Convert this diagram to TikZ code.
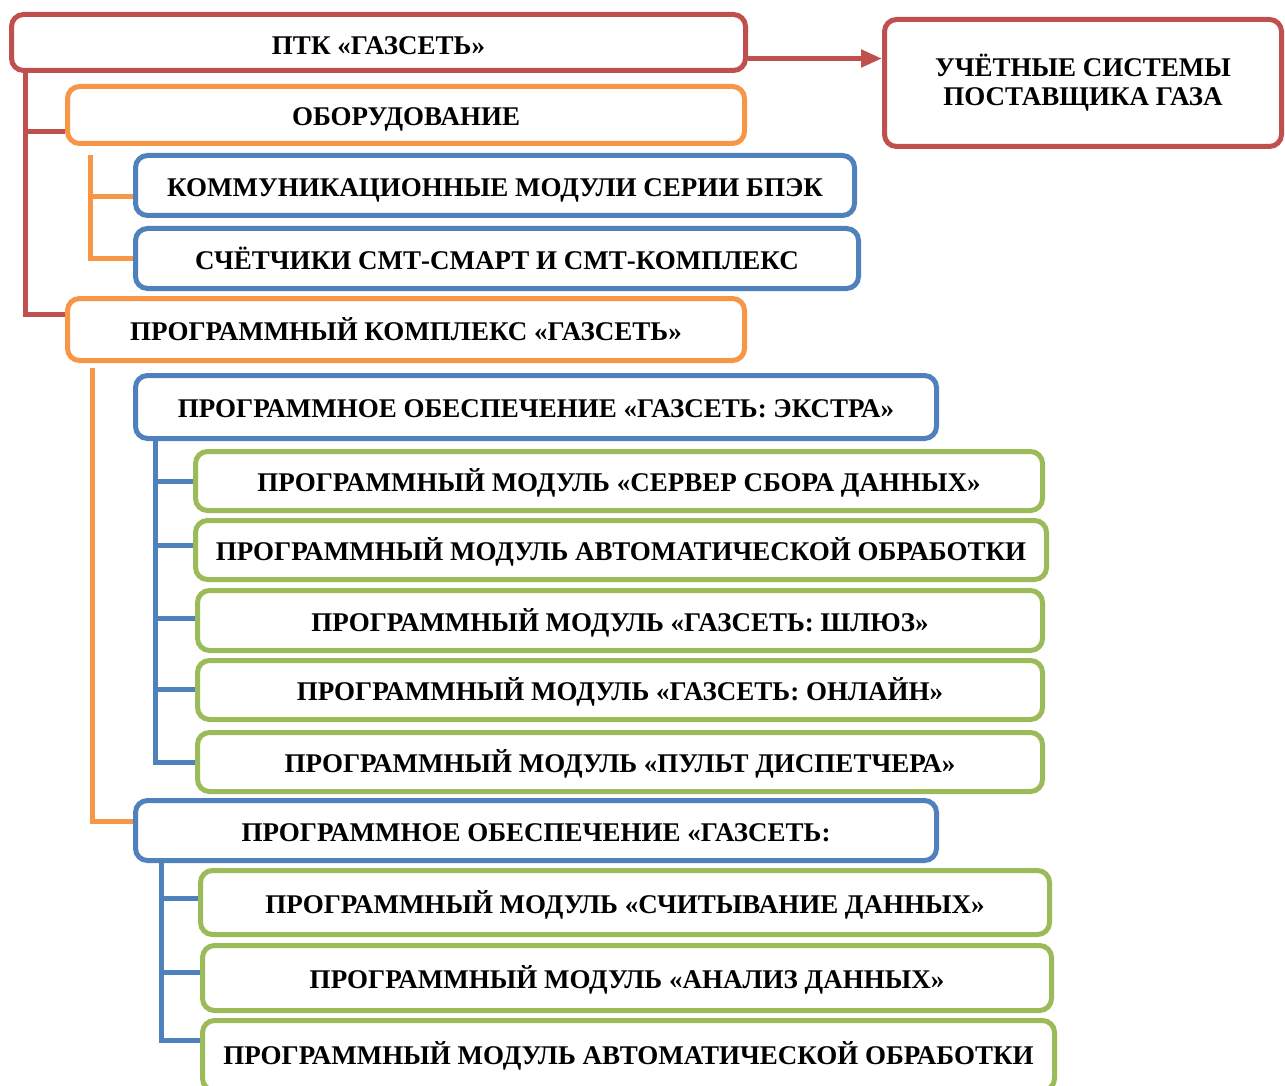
\documentclass[tikz,border=0pt]{standalone}
\usepackage{fontspec}
\setmainfont{Liberation Serif}
\usetikzlibrary{calc,arrows.meta}
\definecolor{cred}{HTML}{C0504D}
\definecolor{corange}{HTML}{F79646}
\definecolor{cblue}{HTML}{4F81BD}
\definecolor{cgreen}{HTML}{9BBB59}
\begin{document}
\begin{tikzpicture}[x=1pt,y=-1pt,
  box/.style={draw, line width=5pt, rounded corners=12pt, fill=white, anchor=north west,
    inner sep=0pt, font=\fontsize{27}{31}\selectfont\bfseries, text height=21.5pt, text depth=0pt, align=center},
  rbox/.style={box, draw=cred},
  obox/.style={box, draw=corange},
  bbox/.style={box, draw=cblue},
  gbox/.style={box, draw=cgreen},
  conn/.style={line width=5pt},
]
\useasboundingbox (0,0) rectangle (1285,1086);
\node[rbox, minimum width=734pt, minimum height=56pt, text height=24pt] (ptk) at (9,12) {ПТК «ГАЗСЕТЬ»};
\node[rbox, minimum width=397pt, minimum height=127pt, text height=, text depth=] (uch) at (882,17) {УЧЁТНЫЕ СИСТЕМЫ\\[-2pt]ПОСТАВЩИКА ГАЗА};
\node[obox, minimum width=677pt, minimum height=57pt] (obo) at (65,84) {ОБОРУДОВАНИЕ};
\node[bbox, minimum width=719pt, minimum height=60pt] (kom) at (133,153) {КОММУНИКАЦИОННЫЕ МОДУЛИ СЕРИИ БПЭК};
\node[bbox, minimum width=723pt, minimum height=60pt] (sch) at (133,226) {СЧЁТЧИКИ СМТ-СМАРТ И СМТ-КОМПЛЕКС};
\node[obox, minimum width=677pt, minimum height=62pt] (pk) at (65,296) {ПРОГРАММНЫЙ КОМПЛЕКС «ГАЗСЕТЬ»};
\node[bbox, minimum width=801pt, minimum height=63pt] (ek) at (133,373) {ПРОГРАММНОЕ ОБЕСПЕЧЕНИЕ «ГАЗСЕТЬ: ЭКСТРА»};
\node[gbox, minimum width=847pt, minimum height=59pt] (g1) at (193,449) {ПРОГРАММНЫЙ МОДУЛЬ «СЕРВЕР СБОРА ДАННЫХ»};
\node[gbox, minimum width=851pt, minimum height=59pt] (g2) at (193,518) {ПРОГРАММНЫЙ МОДУЛЬ АВТОМАТИЧЕСКОЙ ОБРАБОТКИ};
\node[gbox, minimum width=845pt, minimum height=60pt] (g3) at (195,588) {ПРОГРАММНЫЙ МОДУЛЬ «ГАЗСЕТЬ: ШЛЮЗ»};
\node[gbox, minimum width=845pt, minimum height=59pt] (g4) at (195,658) {ПРОГРАММНЫЙ МОДУЛЬ «ГАЗСЕТЬ: ОНЛАЙН»};
\node[gbox, minimum width=845pt, minimum height=59pt] (g5) at (195,730) {ПРОГРАММНЫЙ МОДУЛЬ «ПУЛЬТ ДИСПЕТЧЕРА»};
\node[bbox, minimum width=801pt, minimum height=60pt] (b2) at (133,798) {ПРОГРАММНОЕ ОБЕСПЕЧЕНИЕ «ГАЗСЕТЬ:};
\node[gbox, minimum width=849pt, minimum height=64pt] (g6) at (198,868) {ПРОГРАММНЫЙ МОДУЛЬ «СЧИТЫВАНИЕ ДАННЫХ»};
\node[gbox, minimum width=849pt, minimum height=65pt] (g7) at (200,943) {ПРОГРАММНЫЙ МОДУЛЬ «АНАЛИЗ ДАННЫХ»};
\node[gbox, minimum width=852pt, minimum height=70pt, text height=, text depth=] (g8) at (200,1018) {ПРОГРАММНЫЙ МОДУЛЬ АВТОМАТИЧЕСКОЙ ОБРАБОТКИ};
% red
\coordinate (rtop) at ($(ptk.south west)+(16,-2)$);
\draw[conn, draw=cred] (rtop) |- ($(obo.west)+(0,17)$);
\draw[conn, draw=cred] (rtop) |- ($(pk.west)+(0,-15)$);
\coordinate (ar) at ($(ptk.east)+(0,16)$);
\draw[conn, draw=cred, -{Triangle[length=21pt,width=17pt]}] (ar) -- (ar -| uch.west);
% orange 1
\coordinate (otop) at ($(kom.north west)+(-43,2)$);
\draw[conn, draw=corange] (otop) |- ($(kom.west)+(0,11)$);
\draw[conn, draw=corange] (otop) |- (sch.west);
% orange 2
\coordinate (otop2) at ($(pk.south west)+(27,5)$);
\draw[conn, draw=corange] (otop2) |- ($(b2.west)+(0,-9)$);
% blue 1
\coordinate (btop) at ($(ek.south west)+(22,-2)$);
\foreach \n/\d in {g1/0,g2/-5,g3/-2,g4/-1,g5/0}{
  \draw[conn, draw=cblue] (btop) |- ($(\n.west)+(0,\d)$);
}
% blue 2
\coordinate (btop2) at ($(b2.south west)+(28,-2)$);
\foreach \n/\d in {g6/-4,g7/-6,g8/-15}{
  \draw[conn, draw=cblue] (btop2) |- ($(\n.west)+(0,\d)$);
}
\end{tikzpicture}
\end{document}
